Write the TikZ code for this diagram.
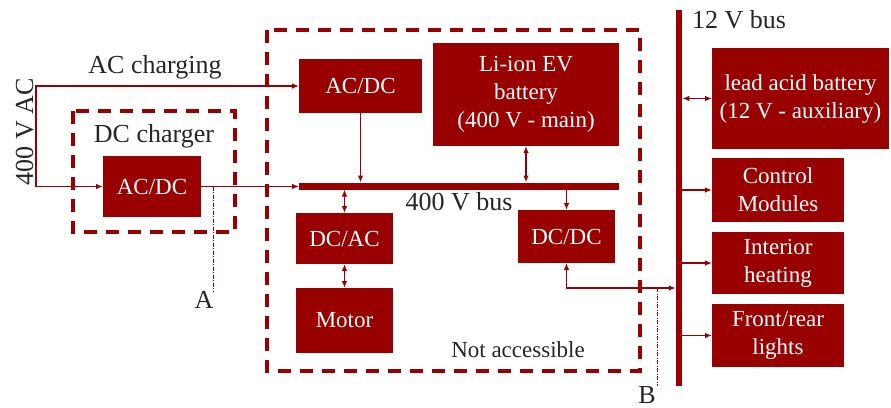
\documentclass[tikz,border=0pt]{standalone}
\usepackage{fontspec}
\setmainfont{Liberation Serif}
\usepackage{xcolor}
\usepackage{tikz}
\usetikzlibrary{arrows.meta}
\definecolor{evred}{RGB}{153,0,0}

\tikzset{
  >={Latex[length=7pt, width=5.5pt]},
  blk/.style={fill=evred, text=white, inner sep=0pt, outer sep=0pt, align=center,
    font=\fontsize{23}{28}\selectfont},
  bar/.style={fill=evred, inner sep=0pt, outer sep=0pt},
  zone/.style={draw=evred, line width=4pt, dash pattern=on 13pt off 9pt},
  wire/.style={draw=evred, line width=1.3pt},
  tap/.style={draw=evred, line width=0.7pt, dash pattern=on 4pt off 1.5pt on 1pt off 1.5pt},
  lbl/.style={font=\fontsize{26}{30}\selectfont, anchor=base, text=black!85}
}

\begin{document}
\begin{tikzpicture}[x=1pt, y=-1pt]
    \useasboundingbox (0,0) rectangle (891,407);

    % Zones
    \draw[zone] (73,111) rectangle (235,232);
    \draw[zone] (267,30) rectangle (640,371);

    % Blocks
    \node[blk, minimum width=98, minimum height=61] (acdcCh) at (152,186.5) {AC/DC};
    \node[blk, minimum width=123, minimum height=54] (acdcTop) at (360.5,86) {AC/DC};
    \node[blk, minimum width=186, minimum height=103] (liion) at (526,94.5) {Li-ion EV\\battery\\(400 V - main)};
    \node[blk, minimum width=97, minimum height=51] (dcac) at (344.5,238.5) {DC/AC};
    \node[blk, minimum width=97, minimum height=65] (motor) at (344.5,320.5) {Motor};
    \node[blk, minimum width=97, minimum height=53] (dcdc) at (566.5,236.5) {DC/DC};
    \node[blk, minimum width=177, minimum height=101] (lead) at (800.5,98.5) {lead acid battery\\(12 V - auxiliary)};
    \node[blk, minimum width=132, minimum height=64] (ctrl) at (778,190) {Control\\Modules};
    \node[blk, minimum width=132, minimum height=62] (heat) at (778,263) {Interior\\heating};
    \node[blk, minimum width=132, minimum height=63] (lights) at (778,335.5) {Front/rear\\lights};

    % Buses
    \node[bar, minimum width=320, minimum height=7] (bus400) at (459,186) {};
    \node[bar, minimum width=6.5, minimum height=376] (bus12) at (679,198) {};

    % Labels
    \node[lbl, rotate=90] (ac400) at (33,132) {400 V AC};
    \node[lbl] (acch) at (155,73) {AC charging};
    \node[lbl] (dcch) at (154,142) {DC charger};
    \node[lbl] (lab400) at (459,210) {400 V bus};
    \node[lbl] (lab12) at (739,28) {12 V bus};
    \node[lbl, font=\fontsize{23}{28}\selectfont] (notacc) at (518,357) {Not accessible};
    \node[lbl] (labA) at (204,308) {A};
    \node[lbl] (labB) at (647,403) {B};

    % Connection points
    \coordinate (ac) at (36,136);
    \coordinate (a) at (213,186.5);
    \coordinate (b) at (657,288);

    % Charging
    \draw[wire, ->] (ac) |- (acdcTop.west);
    \draw[wire, ->] (ac) |- (acdcCh.west);
    \draw[wire, ->] (acdcCh.east) -- (acdcCh.east -| bus400.west);

    % 400 V side
    \draw[wire, ->] (acdcTop.south) -- (acdcTop.south |- bus400.north);
    \draw[wire, <->] (liion.south) -- (liion.south |- bus400.north);
    \draw[wire, <->] (dcac.north |- bus400.south) -- (dcac.north);
    \draw[wire, <->] (dcac.south) -- (motor.north);
    \draw[wire, ->] (dcdc.north |- bus400.south) -- (dcdc.north);

    % 12 V side
    \draw[wire, <->] (dcdc.south) |- (b) -- (b -| bus12.west);
    \draw[wire, <->] (bus12.east |- lead.west) -- (lead.west);
    \draw[wire, ->] (bus12.east |- ctrl.west) -- (ctrl.west);
    \draw[wire, ->] (bus12.east |- heat.west) -- (heat.west);
    \draw[wire, ->] (bus12.east |- lights.west) -- (lights.west);

    % Measuring points
    \draw[tap] (a) -- ([yshift=-4pt]a |- labA.north);
    \draw[tap] (b) -- ([yshift=-4pt]b |- labB.north);
\end{tikzpicture}
\end{document}
